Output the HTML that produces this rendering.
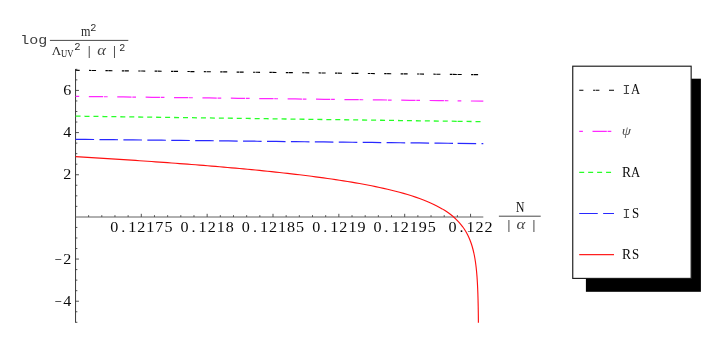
<!DOCTYPE html>
<html><head><meta charset="utf-8"><title>plot</title>
<style>
html,body{margin:0;padding:0;background:#fff;}
body{width:722px;height:345px;overflow:hidden;}
#w{width:722px;height:345px;will-change:transform;}
svg{display:block;}
text{font-family:"Liberation Mono",monospace;font-size:14px;fill:#2a2a2a;letter-spacing:0.64px;}
.m{letter-spacing:0;}
.s{font-family:"Liberation Serif",serif;letter-spacing:0;}
.i{font-family:"Liberation Serif",serif;font-style:italic;letter-spacing:0;}
</style></head><body><div id="w">
<svg width="722" height="345" viewBox="0 0 722 345">
<rect width="722" height="345" fill="#fff"/>
<g>

<g stroke="#333" stroke-width="0.85" fill="none">
<line x1="75.55" y1="69.04" x2="75.55" y2="322.70" stroke="#3a3a3a" stroke-width="1.0"/>
<line x1="75.55" y1="217.0" x2="483.3" y2="217.0" stroke="#606060" stroke-width="1"/>
<line x1="75.55" y1="322.30" x2="77.35" y2="322.30"/>
<line x1="75.55" y1="311.76" x2="77.35" y2="311.76"/>
<line x1="75.55" y1="301.22" x2="78.95" y2="301.22"/>
<line x1="75.55" y1="290.68" x2="77.35" y2="290.68"/>
<line x1="75.55" y1="280.14" x2="77.35" y2="280.14"/>
<line x1="75.55" y1="269.60" x2="77.35" y2="269.60"/>
<line x1="75.55" y1="259.06" x2="78.95" y2="259.06"/>
<line x1="75.55" y1="248.52" x2="77.35" y2="248.52"/>
<line x1="75.55" y1="237.98" x2="77.35" y2="237.98"/>
<line x1="75.55" y1="227.44" x2="77.35" y2="227.44"/>
<line x1="75.55" y1="206.36" x2="77.35" y2="206.36"/>
<line x1="75.55" y1="195.82" x2="77.35" y2="195.82"/>
<line x1="75.55" y1="185.28" x2="77.35" y2="185.28"/>
<line x1="75.55" y1="174.74" x2="78.95" y2="174.74"/>
<line x1="75.55" y1="164.20" x2="77.35" y2="164.20"/>
<line x1="75.55" y1="153.66" x2="77.35" y2="153.66"/>
<line x1="75.55" y1="143.12" x2="77.35" y2="143.12"/>
<line x1="75.55" y1="132.58" x2="78.95" y2="132.58"/>
<line x1="75.55" y1="122.04" x2="77.35" y2="122.04"/>
<line x1="75.55" y1="111.50" x2="77.35" y2="111.50"/>
<line x1="75.55" y1="100.96" x2="77.35" y2="100.96"/>
<line x1="75.55" y1="90.42" x2="78.95" y2="90.42"/>
<line x1="75.55" y1="79.88" x2="77.35" y2="79.88"/>
<line x1="75.55" y1="69.34" x2="77.35" y2="69.34"/>
<line x1="88.62" y1="216.9" x2="88.62" y2="215.20000000000002"/>
<line x1="101.79" y1="216.9" x2="101.79" y2="215.20000000000002"/>
<line x1="114.96" y1="216.9" x2="114.96" y2="215.20000000000002"/>
<line x1="128.13" y1="216.9" x2="128.13" y2="215.20000000000002"/>
<line x1="141.30" y1="216.9" x2="141.30" y2="213.8"/>
<line x1="154.47" y1="216.9" x2="154.47" y2="215.20000000000002"/>
<line x1="167.64" y1="216.9" x2="167.64" y2="215.20000000000002"/>
<line x1="180.81" y1="216.9" x2="180.81" y2="215.20000000000002"/>
<line x1="193.98" y1="216.9" x2="193.98" y2="215.20000000000002"/>
<line x1="207.15" y1="216.9" x2="207.15" y2="213.8"/>
<line x1="220.32" y1="216.9" x2="220.32" y2="215.20000000000002"/>
<line x1="233.49" y1="216.9" x2="233.49" y2="215.20000000000002"/>
<line x1="246.66" y1="216.9" x2="246.66" y2="215.20000000000002"/>
<line x1="259.83" y1="216.9" x2="259.83" y2="215.20000000000002"/>
<line x1="273.00" y1="216.9" x2="273.00" y2="213.8"/>
<line x1="286.17" y1="216.9" x2="286.17" y2="215.20000000000002"/>
<line x1="299.34" y1="216.9" x2="299.34" y2="215.20000000000002"/>
<line x1="312.51" y1="216.9" x2="312.51" y2="215.20000000000002"/>
<line x1="325.68" y1="216.9" x2="325.68" y2="215.20000000000002"/>
<line x1="338.85" y1="216.9" x2="338.85" y2="213.8"/>
<line x1="352.02" y1="216.9" x2="352.02" y2="215.20000000000002"/>
<line x1="365.19" y1="216.9" x2="365.19" y2="215.20000000000002"/>
<line x1="378.36" y1="216.9" x2="378.36" y2="215.20000000000002"/>
<line x1="391.53" y1="216.9" x2="391.53" y2="215.20000000000002"/>
<line x1="404.70" y1="216.9" x2="404.70" y2="213.8"/>
<line x1="417.87" y1="216.9" x2="417.87" y2="215.20000000000002"/>
<line x1="431.04" y1="216.9" x2="431.04" y2="215.20000000000002"/>
<line x1="444.21" y1="216.9" x2="444.21" y2="215.20000000000002"/>
<line x1="457.38" y1="216.9" x2="457.38" y2="215.20000000000002"/>
<line x1="470.55" y1="216.9" x2="470.55" y2="213.8"/>
</g>
<text class="s" text-anchor="middle" transform="translate(67.34,95.02) scale(1.150,1)" style="font-size:14px;fill:#0a0a0a">6</text>
<text class="s" text-anchor="middle" transform="translate(67.34,137.18) scale(1.150,1)" style="font-size:14px;fill:#0a0a0a">4</text>
<text class="s" text-anchor="middle" transform="translate(67.34,179.34) scale(1.150,1)" style="font-size:14px;fill:#0a0a0a">2</text>
<text class="s" text-anchor="middle" transform="translate(58.30,263.66) scale(0.920,1)" style="font-size:14px;fill:#0a0a0a">−</text>
<text class="s" text-anchor="middle" transform="translate(67.34,263.66) scale(1.150,1)" style="font-size:14px;fill:#0a0a0a">2</text>
<text class="s" text-anchor="middle" transform="translate(58.30,305.82) scale(0.920,1)" style="font-size:14px;fill:#0a0a0a">−</text>
<text class="s" text-anchor="middle" transform="translate(67.34,305.82) scale(1.150,1)" style="font-size:14px;fill:#0a0a0a">4</text>
<text class="s" text-anchor="middle" transform="translate(114.18,231.50) scale(1.150,1)" style="font-size:14px;fill:#0a0a0a">0</text>
<text class="s" text-anchor="middle" transform="translate(123.22,231.50) scale(1.150,1)" style="font-size:14px;fill:#0a0a0a">.</text>
<text class="s" text-anchor="middle" transform="translate(132.26,231.50) scale(1.150,1)" style="font-size:14px;fill:#0a0a0a">1</text>
<text class="s" text-anchor="middle" transform="translate(141.30,231.50) scale(1.150,1)" style="font-size:14px;fill:#0a0a0a">2</text>
<text class="s" text-anchor="middle" transform="translate(150.34,231.50) scale(1.150,1)" style="font-size:14px;fill:#0a0a0a">1</text>
<text class="s" text-anchor="middle" transform="translate(159.38,231.50) scale(1.150,1)" style="font-size:14px;fill:#0a0a0a">7</text>
<text class="s" text-anchor="middle" transform="translate(168.42,231.50) scale(1.150,1)" style="font-size:14px;fill:#0a0a0a">5</text>
<text class="s" text-anchor="middle" transform="translate(184.55,231.50) scale(1.150,1)" style="font-size:14px;fill:#0a0a0a">0</text>
<text class="s" text-anchor="middle" transform="translate(193.59,231.50) scale(1.150,1)" style="font-size:14px;fill:#0a0a0a">.</text>
<text class="s" text-anchor="middle" transform="translate(202.63,231.50) scale(1.150,1)" style="font-size:14px;fill:#0a0a0a">1</text>
<text class="s" text-anchor="middle" transform="translate(211.67,231.50) scale(1.150,1)" style="font-size:14px;fill:#0a0a0a">2</text>
<text class="s" text-anchor="middle" transform="translate(220.71,231.50) scale(1.150,1)" style="font-size:14px;fill:#0a0a0a">1</text>
<text class="s" text-anchor="middle" transform="translate(229.75,231.50) scale(1.150,1)" style="font-size:14px;fill:#0a0a0a">8</text>
<text class="s" text-anchor="middle" transform="translate(245.88,231.50) scale(1.150,1)" style="font-size:14px;fill:#0a0a0a">0</text>
<text class="s" text-anchor="middle" transform="translate(254.92,231.50) scale(1.150,1)" style="font-size:14px;fill:#0a0a0a">.</text>
<text class="s" text-anchor="middle" transform="translate(263.96,231.50) scale(1.150,1)" style="font-size:14px;fill:#0a0a0a">1</text>
<text class="s" text-anchor="middle" transform="translate(273.00,231.50) scale(1.150,1)" style="font-size:14px;fill:#0a0a0a">2</text>
<text class="s" text-anchor="middle" transform="translate(282.04,231.50) scale(1.150,1)" style="font-size:14px;fill:#0a0a0a">1</text>
<text class="s" text-anchor="middle" transform="translate(291.08,231.50) scale(1.150,1)" style="font-size:14px;fill:#0a0a0a">8</text>
<text class="s" text-anchor="middle" transform="translate(300.12,231.50) scale(1.150,1)" style="font-size:14px;fill:#0a0a0a">5</text>
<text class="s" text-anchor="middle" transform="translate(316.25,231.50) scale(1.150,1)" style="font-size:14px;fill:#0a0a0a">0</text>
<text class="s" text-anchor="middle" transform="translate(325.29,231.50) scale(1.150,1)" style="font-size:14px;fill:#0a0a0a">.</text>
<text class="s" text-anchor="middle" transform="translate(334.33,231.50) scale(1.150,1)" style="font-size:14px;fill:#0a0a0a">1</text>
<text class="s" text-anchor="middle" transform="translate(343.37,231.50) scale(1.150,1)" style="font-size:14px;fill:#0a0a0a">2</text>
<text class="s" text-anchor="middle" transform="translate(352.41,231.50) scale(1.150,1)" style="font-size:14px;fill:#0a0a0a">1</text>
<text class="s" text-anchor="middle" transform="translate(361.45,231.50) scale(1.150,1)" style="font-size:14px;fill:#0a0a0a">9</text>
<text class="s" text-anchor="middle" transform="translate(377.58,231.50) scale(1.150,1)" style="font-size:14px;fill:#0a0a0a">0</text>
<text class="s" text-anchor="middle" transform="translate(386.62,231.50) scale(1.150,1)" style="font-size:14px;fill:#0a0a0a">.</text>
<text class="s" text-anchor="middle" transform="translate(395.66,231.50) scale(1.150,1)" style="font-size:14px;fill:#0a0a0a">1</text>
<text class="s" text-anchor="middle" transform="translate(404.70,231.50) scale(1.150,1)" style="font-size:14px;fill:#0a0a0a">2</text>
<text class="s" text-anchor="middle" transform="translate(413.74,231.50) scale(1.150,1)" style="font-size:14px;fill:#0a0a0a">1</text>
<text class="s" text-anchor="middle" transform="translate(422.78,231.50) scale(1.150,1)" style="font-size:14px;fill:#0a0a0a">9</text>
<text class="s" text-anchor="middle" transform="translate(431.82,231.50) scale(1.150,1)" style="font-size:14px;fill:#0a0a0a">5</text>
<text class="s" text-anchor="middle" transform="translate(452.47,231.50) scale(1.150,1)" style="font-size:14px;fill:#0a0a0a">0</text>
<text class="s" text-anchor="middle" transform="translate(461.51,231.50) scale(1.150,1)" style="font-size:14px;fill:#0a0a0a">.</text>
<text class="s" text-anchor="middle" transform="translate(470.55,231.50) scale(1.150,1)" style="font-size:14px;fill:#0a0a0a">1</text>
<text class="s" text-anchor="middle" transform="translate(479.59,231.50) scale(1.150,1)" style="font-size:14px;fill:#0a0a0a">2</text>
<text class="s" text-anchor="middle" transform="translate(488.63,231.50) scale(1.150,1)" style="font-size:14px;fill:#0a0a0a">2</text>
<path d="M75.55,70.30 L85.10,70.40 L94.65,70.51 L104.20,70.61 L113.75,70.72 L123.31,70.82 L132.86,70.92 L142.41,71.03 L151.96,71.13 L161.51,71.24 L171.06,71.34 L180.61,71.44 L190.17,71.55 L199.72,71.65 L209.27,71.75 L218.82,71.86 L228.37,71.96 L237.92,72.07 L247.47,72.17 L257.02,72.27 L266.57,72.38 L276.13,72.48 L285.68,72.59 L295.23,72.69 L304.78,72.79 L314.33,72.90 L323.88,73.00 L333.43,73.11 L342.99,73.21 L352.54,73.31 L362.09,73.42 L371.64,73.52 L381.19,73.63 L390.74,73.73 L400.29,73.83 L409.84,73.94 L419.40,74.04 L428.95,74.14 L438.50,74.25 L448.05,74.35 L457.60,74.46" fill="none" stroke="#000" stroke-width="1.15" stroke-dasharray="4.1 9.4 2.4 0.5"/>
<path d="M457.60,74.46 L483.30,74.74" fill="none" stroke="#000" stroke-width="1.15" stroke-dasharray="4.1 9.4 2.4 0.5"/>
<path d="M75.55,96.40 L85.10,96.51 L94.65,96.62 L104.20,96.73 L113.75,96.84 L123.31,96.95 L132.86,97.07 L142.41,97.18 L151.96,97.29 L161.51,97.40 L171.06,97.51 L180.61,97.62 L190.17,97.73 L199.72,97.84 L209.27,97.95 L218.82,98.06 L228.37,98.18 L237.92,98.29 L247.47,98.40 L257.02,98.51 L266.57,98.62 L276.13,98.73 L285.68,98.84 L295.23,98.95 L304.78,99.06 L314.33,99.17 L323.88,99.29 L333.43,99.40 L342.99,99.51 L352.54,99.62 L362.09,99.73 L371.64,99.84 L381.19,99.95 L390.74,100.06 L400.29,100.17 L409.84,100.28 L419.40,100.40 L428.95,100.51 L438.50,100.62 L448.05,100.73 L457.60,100.84" fill="none" stroke="#ff28ff" stroke-width="1.2" stroke-dasharray="3.7 9.6 14.3 0.8"/>
<path d="M457.60,100.84 L483.30,101.14" fill="none" stroke="#ff28ff" stroke-width="1.2" stroke-dasharray="3.7 9.6 14.3 0.8"/>
<path d="M75.55,116.15 L85.10,116.28 L94.65,116.41 L104.20,116.54 L113.75,116.66 L123.31,116.79 L132.86,116.92 L142.41,117.05 L151.96,117.18 L161.51,117.31 L171.06,117.44 L180.61,117.57 L190.17,117.69 L199.72,117.82 L209.27,117.95 L218.82,118.08 L228.37,118.21 L237.92,118.34 L247.47,118.47 L257.02,118.60 L266.57,118.72 L276.13,118.85 L285.68,118.98 L295.23,119.11 L304.78,119.24 L314.33,119.37 L323.88,119.50 L333.43,119.63 L342.99,119.75 L352.54,119.88 L362.09,120.01 L371.64,120.14 L381.19,120.27 L390.74,120.40 L400.29,120.53 L409.84,120.65 L419.40,120.78 L428.95,120.91 L438.50,121.04 L448.05,121.17 L457.60,121.30" fill="none" stroke="#28ff28" stroke-width="1.3" stroke-dasharray="5 3.957"/>
<path d="M457.60,121.30 L483.30,121.64" fill="none" stroke="#28ff28" stroke-width="1.3" stroke-dasharray="5 3.957"/>
<path d="M75.55,139.30 L85.10,139.40 L94.65,139.50 L104.20,139.60 L113.75,139.71 L123.31,139.81 L132.86,139.91 L142.41,140.01 L151.96,140.11 L161.51,140.21 L171.06,140.32 L180.61,140.42 L190.17,140.52 L199.72,140.62 L209.27,140.72 L218.82,140.82 L228.37,140.92 L237.92,141.03 L247.47,141.13 L257.02,141.23 L266.57,141.33 L276.13,141.43 L285.68,141.53 L295.23,141.64 L304.78,141.74 L314.33,141.84 L323.88,141.94 L333.43,142.04 L342.99,142.14 L352.54,142.24 L362.09,142.35 L371.64,142.45 L381.19,142.55 L390.74,142.65 L400.29,142.75 L409.84,142.85 L419.40,142.96 L428.95,143.06 L438.50,143.16 L448.05,143.26 L457.60,143.36" fill="none" stroke="#2828ff" stroke-width="1.2" stroke-dasharray="18.55 5.38"/>
<path d="M457.60,143.36 L483.30,143.64" fill="none" stroke="#2828ff" stroke-width="1.2" stroke-dasharray="18.55 5.38"/>
<path d="M75.55,156.62 L79.55,156.86 L83.55,157.11 L87.55,157.35 L91.55,157.60 L95.55,157.84 L99.55,158.09 L103.55,158.34 L107.55,158.60 L111.55,158.85 L115.55,159.11 L119.55,159.37 L123.55,159.63 L127.55,159.90 L131.55,160.16 L135.55,160.43 L139.55,160.70 L143.55,160.98 L147.55,161.25 L151.55,161.53 L155.55,161.81 L159.55,162.10 L163.55,162.38 L167.55,162.68 L171.55,162.97 L175.55,163.27 L179.55,163.56 L183.55,163.87 L187.55,164.17 L191.55,164.48 L195.55,164.80 L199.55,165.12 L203.55,165.44 L207.55,165.76 L211.55,166.09 L215.55,166.43 L219.55,166.77 L223.55,167.11 L227.55,167.46 L231.55,167.81 L235.55,168.17 L239.55,168.53 L243.55,168.90 L247.55,169.28 L251.55,169.66 L255.55,170.05 L259.55,170.44 L263.55,170.84 L267.55,171.25 L271.55,171.66 L275.55,172.09 L279.55,172.52 L283.55,172.95 L287.55,173.40 L291.55,173.86 L295.55,174.32 L299.55,174.80 L303.55,175.29 L307.55,175.78 L311.55,176.29 L315.55,176.81 L319.55,177.34 L323.55,177.89 L327.55,178.45 L331.55,179.02 L335.55,179.61 L339.55,180.22 L343.55,180.84 L347.55,181.48 L351.55,182.15 L355.55,182.83 L359.55,183.53 L363.55,184.26 L367.55,185.02 L371.55,185.80 L375.55,186.61 L379.55,187.46 L383.55,188.34 L387.55,189.26 L391.55,190.22 L395.55,191.22 L399.55,192.27 L403.55,193.38 L407.55,194.56 L411.55,195.79 L415.55,197.11 L419.55,198.51 L423.49,199.99 L427.16,201.47 L430.59,202.95 L433.79,204.43 L436.78,205.91 L439.57,207.40 L442.17,208.88 L444.60,210.36 L446.86,211.85 L448.98,213.33 L450.95,214.82 L452.80,216.30 L454.52,217.80 L456.12,219.30 L457.62,220.79 L459.02,222.29 L460.33,223.79 L461.54,225.29 L462.68,226.79 L463.74,228.28 L464.73,229.78 L465.66,231.28 L466.52,232.78 L467.33,234.28 L468.08,235.77 L468.78,237.27 L469.43,238.77 L470.04,240.27 L470.61,241.77 L471.15,243.26 L471.64,244.76 L472.11,246.26 L472.54,247.76 L472.94,249.26 L473.32,250.75 L473.67,252.25 L474.00,253.75 L474.31,255.25 L474.59,256.75 L474.86,258.24 L475.11,259.74 L475.34,261.24 L475.56,262.74 L475.76,264.24 L475.95,265.73 L476.13,267.23 L476.29,268.73 L476.45,270.23 L476.59,271.73 L476.72,273.22 L476.85,274.72 L476.97,276.22 L477.08,277.72 L477.18,279.22 L477.27,280.71 L477.36,282.21 L477.44,283.71 L477.52,285.21 L477.59,286.71 L477.66,288.20 L477.72,289.70 L477.78,291.20 L477.84,292.70 L477.89,294.20 L477.93,295.69 L477.98,297.19 L478.02,298.69 L478.06,300.19 L478.09,301.69 L478.13,303.18 L478.16,304.68 L478.19,306.18 L478.22,307.68 L478.24,309.18 L478.27,310.67 L478.29,312.17 L478.31,313.67 L478.33,315.17 L478.35,316.67 L478.36,318.16 L478.38,319.66 L478.39,321.16 L478.40,322.70" fill="none" stroke="#ff1010" stroke-width="1.15"/>
<line x1="498.9" y1="216.2" x2="540.7" y2="216.2" stroke="#333" stroke-width="0.9"/>
<text class="s" text-anchor="middle" transform="translate(520.15,211.60) scale(0.860,1)" style="font-size:13.6px;fill:#0a0a0a">N</text>
<text x="505.00" y="228.8" style="font-size:13px;fill:#555">|</text>
<text class="i" transform="translate(516.6,229) scale(1.15,1)" style="font-size:14.5px;fill:#444">α</text>
<text x="530.10" y="228.8" style="font-size:13px;fill:#555">|</text>
<text transform="translate(20.24,44.10) scale(1.159,1)" style="font-size:13px;letter-spacing:0.00px;fill:#3c3c3c;">log</text>
<line x1="49.9" y1="40.4" x2="128.3" y2="40.4" stroke="#333" stroke-width="0.9"/>
<text class="s" transform="translate(81.10,35.80) scale(0.840,1)" style="font-size:14.5px;letter-spacing:0.00px;fill:#2a2a2a;">m</text>
<text x="90.3" y="30.5" style="font-size:10.2px">2</text>
<text class="s" x="51.8" y="55.2" style="font-size:13px">Λ</text>
<text class="s" transform="translate(61.00,56.70) scale(0.900,1)" style="font-size:9.6px;letter-spacing:0.00px;fill:#222;">UV</text>
<text x="74.3" y="49.8" style="font-size:10.5px">2</text>
<text x="85.55" y="54.8" style="font-size:12.5px;fill:#555">|</text>
<text class="i" transform="translate(97.2,55.2) scale(1.18,1)" style="font-size:14px;fill:#444">α</text>
<text x="110.65" y="54.8" style="font-size:12.5px;fill:#555">|</text>
<text x="119.2" y="50.9" style="font-size:10px">2</text>
<rect x="585.9" y="78.7" width="115.0" height="213.1" fill="#000"/>
<rect x="572.75" y="66.2" width="118.4" height="212.2" fill="#fff" stroke="#1a1a1a" stroke-width="1.15"/>
<path d="M579.2,90.2 L614.0,90.2" stroke="#000" stroke-width="1.1" stroke-dasharray="4.2 9.7 2.2 0.5 3.6 9.6 5" fill="none"/>
<path d="M579.2,131.3 L614.0,131.3" stroke="#ff28ff" stroke-width="1.2" stroke-dasharray="3.7 9.6 14.3 0.8" fill="none"/>
<path d="M579.2,172.4 L614.0,172.4" stroke="#28ff28" stroke-width="1.3" stroke-dasharray="5 3.957" fill="none"/>
<path d="M579.2,213.5 L614.0,213.5" stroke="#2828ff" stroke-width="1.2" stroke-dasharray="18.55 5.38" fill="none"/>
<path d="M579.2,254.6 L614.0,254.6" stroke="#ff2020" stroke-width="1.05" fill="none"/>
<text class="m" text-anchor="middle" transform="translate(626.50,94.40) scale(1.000,1)" style="font-size:13.1px;fill:#444">I</text>
<text class="s" text-anchor="middle" transform="translate(635.54,94.40) scale(0.930,1)" style="font-size:13.6px;fill:#0a0a0a">A</text>
<text class="i" transform="translate(621.70,134.60) scale(1.100,1)" style="font-size:13.5px;letter-spacing:0.00px;fill:#505050;">ψ</text>
<text class="s" text-anchor="middle" transform="translate(626.50,176.60) scale(1.000,1)" style="font-size:13.6px;fill:#0a0a0a">R</text>
<text class="s" text-anchor="middle" transform="translate(635.54,176.60) scale(0.930,1)" style="font-size:13.6px;fill:#0a0a0a">A</text>
<text class="m" text-anchor="middle" transform="translate(626.50,217.70) scale(1.000,1)" style="font-size:13.1px;fill:#444">I</text>
<text class="s" text-anchor="middle" transform="translate(635.54,217.70) scale(0.950,1)" style="font-size:13.6px;fill:#0a0a0a">S</text>
<text class="s" text-anchor="middle" transform="translate(626.50,258.80) scale(1.000,1)" style="font-size:13.6px;fill:#0a0a0a">R</text>
<text class="s" text-anchor="middle" transform="translate(635.54,258.80) scale(0.950,1)" style="font-size:13.6px;fill:#0a0a0a">S</text>
</g></svg></div></body></html>
